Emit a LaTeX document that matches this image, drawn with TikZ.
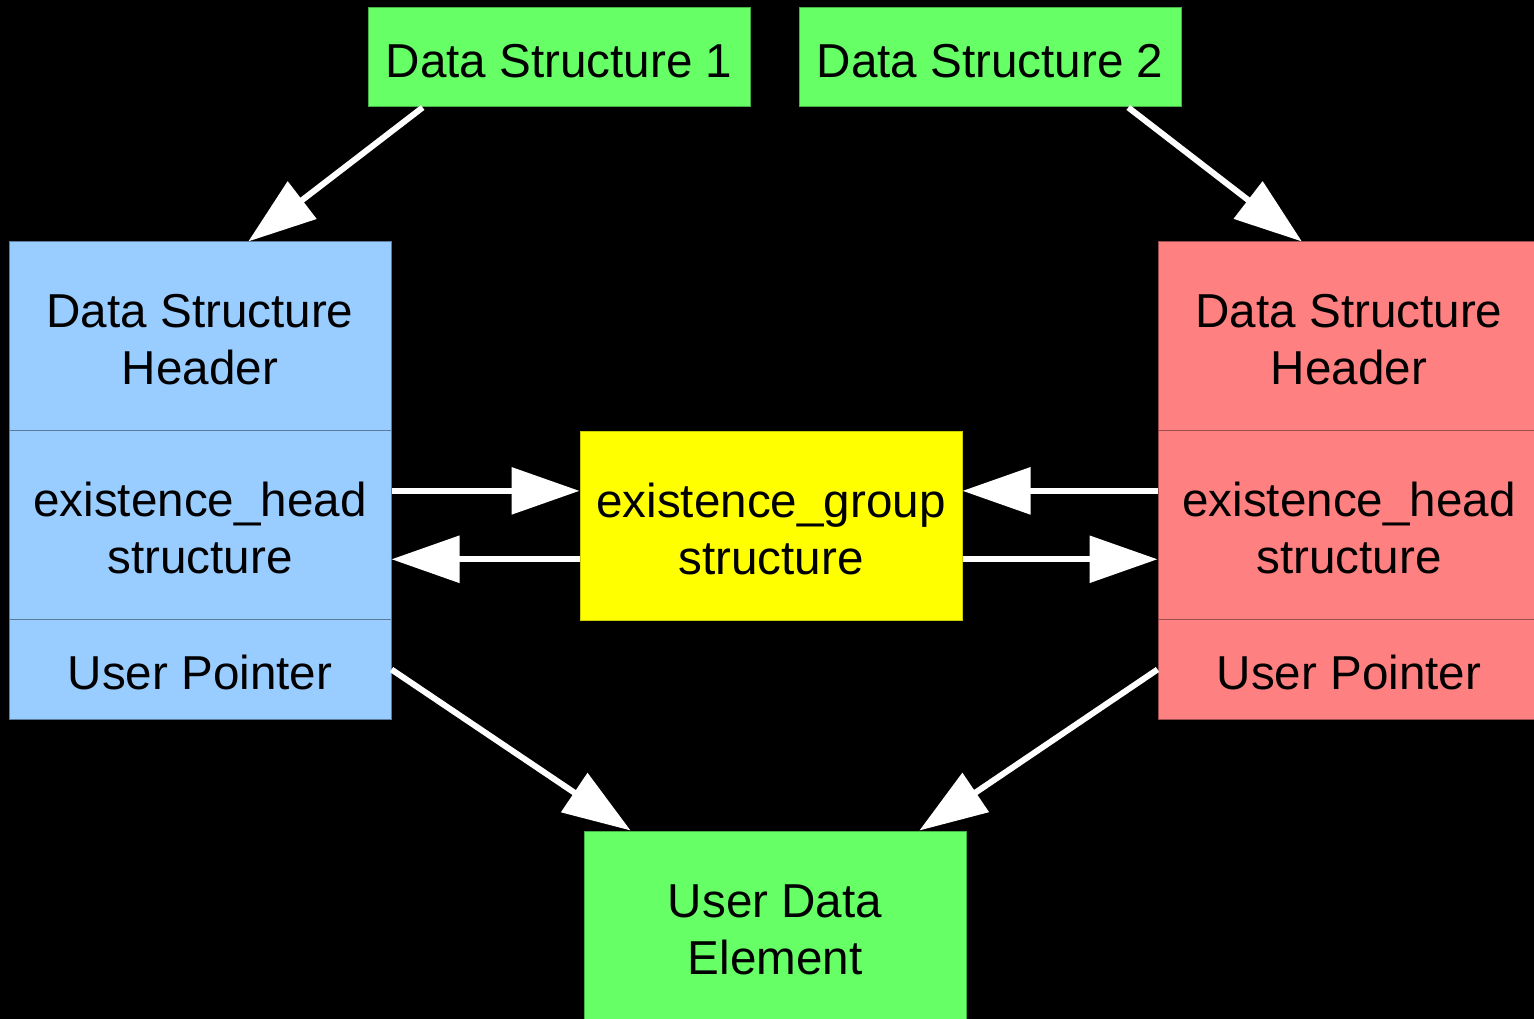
\documentclass[tikz,border=0pt]{standalone}
\usepackage{fontspec}
\setmainfont{Liberation Sans}
\usetikzlibrary{arrows.meta,calc}
\definecolor{cblue}{HTML}{99CCFF}
\definecolor{cred}{HTML}{FF8080}
\definecolor{cgreen}{HTML}{66FF66}
\definecolor{cyel}{HTML}{FFFF00}
\newcommand\fl{\rule{0pt}{40.5pt}}
\begin{document}
\begin{tikzpicture}[x=1pt,y=-1pt,
  box/.style={rectangle, inner sep=0pt, minimum width=382pt, align=center,
    font=\fontsize{47.6}{57}\selectfont, text=black, line width=1pt},
  bluebox/.style={box, fill=cblue, draw=cblue!60!black},
  redbox/.style={box, fill=cred, draw=cred!60!black},
  greenbox/.style={box, fill=cgreen, draw=cgreen!70!black},
  yelbox/.style={box, fill=cyel, draw=cyel!80!black},
  arr/.style={draw=white, line width=6pt, -{Triangle[length=68pt,width=46pt]}}]
\fill[black] (0,0) rectangle (1534,1019);
\useasboundingbox (0,0) rectangle (1534,1019);
% top boxes
\node[greenbox, minimum height=99pt] (ds1) at (559,57.5) {\fl Data Structure 1};
\node[greenbox, minimum height=99pt] (ds2) at (990,57.5) {\fl Data Structure 2};
% left block
\node[bluebox, minimum height=188pt] (lhdr) at (200,336) {\fl Data Structure\\Header};
\node[bluebox, minimum height=189pt] (lexh) at (200,524.5) {\fl existence\_head\\structure};
\node[bluebox, minimum height=100pt] (lptr) at (200,669.5) {\fl User Pointer};
% right block
\node[redbox, minimum height=188pt] (rhdr) at (1349,336) {\fl Data Structure\\Header};
\node[redbox, minimum height=189pt] (rexh) at (1349,524.5) {\fl existence\_head\\structure};
\node[redbox, minimum height=100pt] (rptr) at (1349,669.5) {\fl User Pointer};
% middle
\node[yelbox, minimum height=189pt] (grp) at (771,525.5) {\fl existence\_group\\structure};
\node[greenbox, minimum height=189pt] (ude) at (775,925.5) {\fl User Data\\Element};
% arrows
\draw[arr] ($(ds1.south west)!0.144!(ds1.south east)$) -- ($(lhdr.north west)!0.626!(lhdr.north east)$);
\draw[arr] ($(ds2.south west)!0.861!(ds2.south east)$) -- ($(rhdr.north west)!0.377!(rhdr.north east)$);
\coordinate (la) at ($(lexh.north east)!0.323!(lexh.south east)$);
\coordinate (lb) at ($(lexh.north east)!0.683!(lexh.south east)$);
\coordinate (ra) at ($(rexh.north west)!0.323!(rexh.south west)$);
\coordinate (rb) at ($(rexh.north west)!0.683!(rexh.south west)$);
\draw[arr] (la) -- (grp.west |- la);
\draw[arr] (grp.west |- lb) -- (lb);
\draw[arr] (ra) -- (grp.east |- ra);
\draw[arr] (grp.east |- rb) -- (rb);
\draw[arr] (lptr.east) -- ($(ude.north west)!0.123!(ude.north east)$);
\draw[arr] (rptr.west) -- ($(ude.north west)!0.877!(ude.north east)$);
\end{tikzpicture}
\end{document}
